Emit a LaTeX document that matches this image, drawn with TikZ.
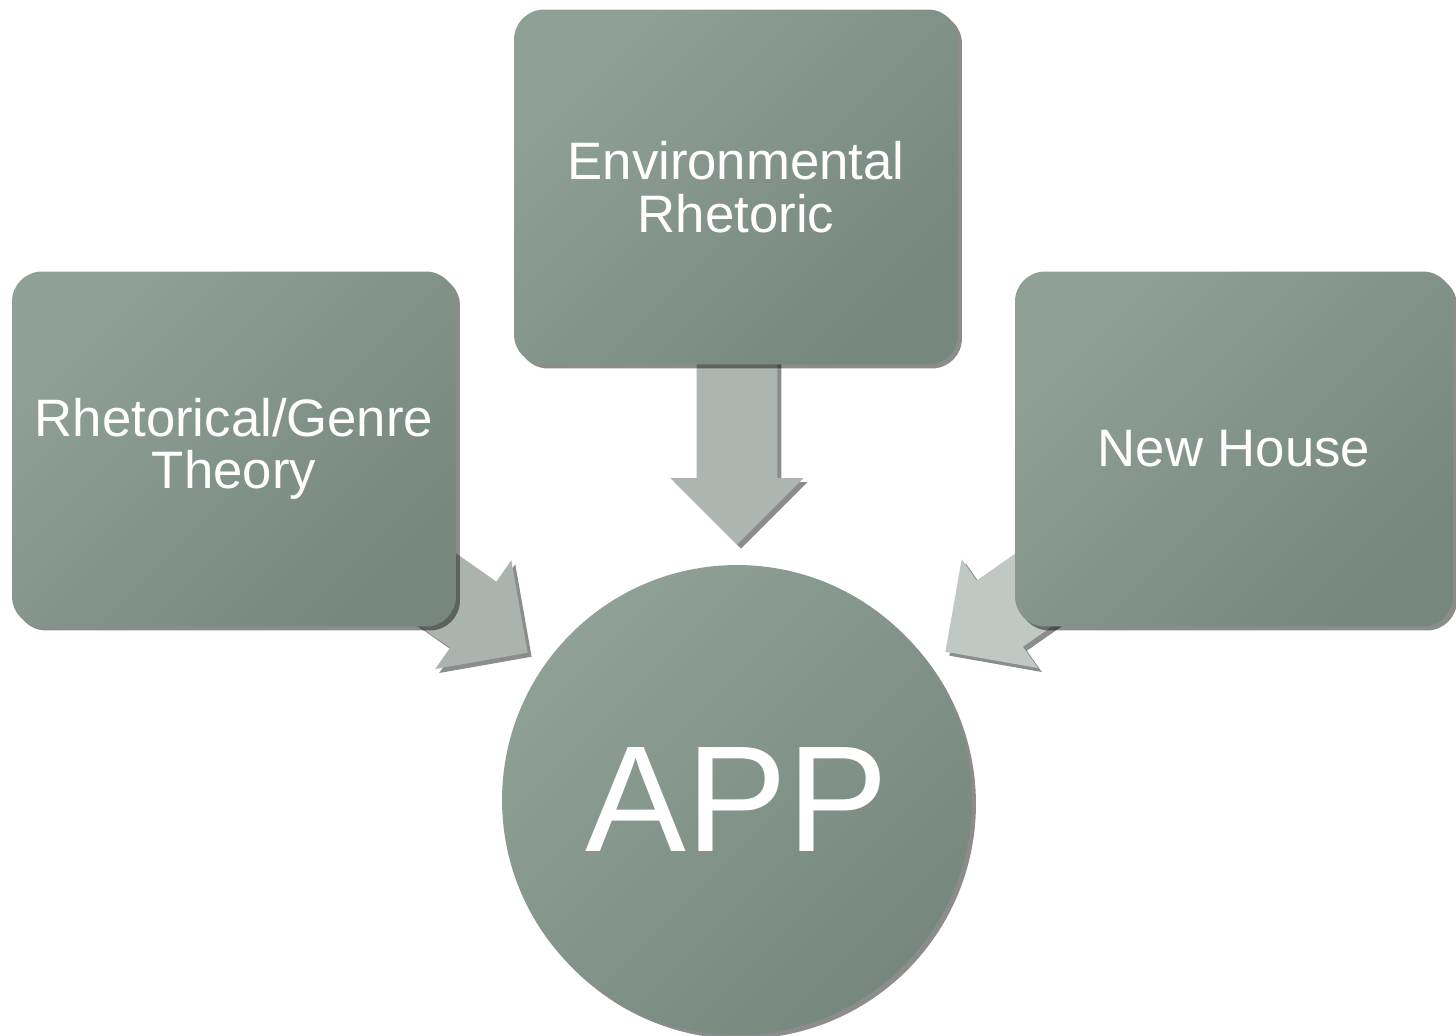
\documentclass[tikz,border=0pt]{standalone}
\usepackage{fontspec}
\setmainfont{Liberation Sans}
\usetikzlibrary{shapes.arrows,shadows}
\definecolor{boxlight}{RGB}{143,160,151}
\definecolor{boxdark}{RGB}{118,135,125}
\definecolor{arrowleft}{RGB}{170,179,174}
\definecolor{arrowdown}{RGB}{173,181,177}
\definecolor{arrowright}{RGB}{192,200,196}
\begin{document}
\begin{tikzpicture}[x=0.02cm,y=-0.02cm,
  shadowed/.style={drop shadow={shadow xshift=0.08cm,shadow yshift=-0.08cm,opacity=0.45,fill=black}},
  topicbox/.style={rectangle,rounded corners=0.6cm,minimum width=8.88cm,minimum height=7.1cm,
    inner sep=0pt,top color=boxlight,bottom color=boxdark,shading angle=45,shadowed,
    text=white,align=center,font=\fontsize{30}{30}\selectfont},
  blockarrow/.style={single arrow,single arrow head extend=0.52cm,single arrow tip angle=90,
    inner xsep=0pt,inner ysep=0.8cm,draw=none,shadowed,anchor=tip}]
\clip (0,0) rectangle (1456,1035);
\fill[white] (0,0) rectangle (1456,1035);
% block arrows (behind the boxes)
\node[blockarrow,minimum height=4.3cm,rotate=-90,fill=arrowdown] (adown) at (737,545) {};
\node[blockarrow,minimum height=4cm,rotate=-35,fill=arrowleft] (aleft) at (528,653) {};
\node[blockarrow,minimum height=4cm,rotate=215,fill=arrowright] (aright) at (945,652) {};
% boxes
\node[topicbox] (rg) at (234,449) {Rhetorical/Genre\\Theory};
\node[topicbox] (env) at (736,187) {Environmental\\Rhetoric};
\node[topicbox,minimum width=8.76cm] (nh) at (1234,449) {New House};
% centre circle
\node[circle,minimum size=9.4cm,inner sep=0pt,top color=boxlight,bottom color=boxdark,shading angle=45,shadowed,
  text=white,font=\fontsize{86}{86}\selectfont] (app) at (737,800) {APP};
\end{tikzpicture}
\end{document}
